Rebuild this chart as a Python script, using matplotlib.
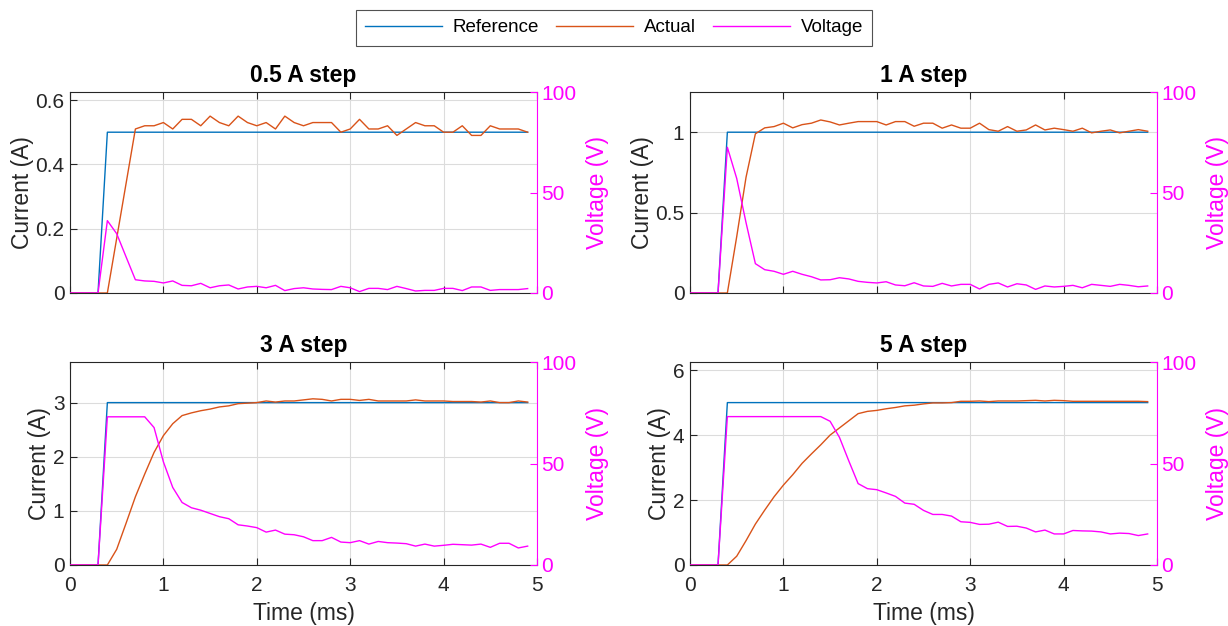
import matplotlib
matplotlib.use("Agg")
import matplotlib.pyplot as plt
from matplotlib.lines import Line2D
from matplotlib.ticker import FormatStrFormatter

plt.rcParams['font.family'] = ['Liberation Sans', 'DejaVu Sans']

# ---- data ----
time_ms = [0.0, 0.1, 0.2, 0.3, 0.4, 0.5, 0.6, 0.7, 0.8, 0.9,
           1.0, 1.1, 1.2, 1.3, 1.4, 1.5, 1.6, 1.7, 1.8, 1.9,
           2.0, 2.1, 2.2, 2.3, 2.4, 2.5, 2.6, 2.7, 2.8, 2.9,
           3.0, 3.1, 3.2, 3.3, 3.4, 3.5, 3.6, 3.7, 3.8, 3.9,
           4.0, 4.1, 4.2, 4.3, 4.4, 4.5, 4.6, 4.7, 4.8, 4.9]

titles = ["0.5 A step", "1 A step", "3 A step", "5 A step"]
steps = [0.5, 1, 3, 5]
current_ticks = [[0, 0.2, 0.4, 0.6], [0, 0.5, 1], [0, 1, 2, 3], [0, 2, 4, 6]]
time_ticks = [0, 1, 2, 3, 4, 5]
voltage_ticks = [0, 50, 100]

ref_05 = [0] * 4 + [0.5] * 46
ref_1 = [0] * 4 + [1] * 46
ref_3 = [0] * 4 + [3] * 46
ref_5 = [0] * 4 + [5] * 46

act_05 = [0] * 5 + [0.17, 0.34, 0.51, 0.52, 0.52, 0.53, 0.51, 0.54, 0.54, 0.52,
                    0.55, 0.53, 0.52, 0.55, 0.53, 0.52, 0.53, 0.51, 0.55, 0.53,
                    0.52, 0.53, 0.53, 0.53, 0.50, 0.51, 0.54, 0.51, 0.51, 0.52,
                    0.49, 0.51, 0.53, 0.52, 0.52, 0.50, 0.50, 0.52, 0.49, 0.49,
                    0.52, 0.51, 0.51, 0.51, 0.50]
act_1 = [0] * 5 + [0.35, 0.72, 0.99, 1.027, 1.035, 1.056, 1.027, 1.047, 1.056, 1.076,
                   1.064, 1.045, 1.056, 1.066, 1.066, 1.066, 1.045, 1.066, 1.066, 1.037,
                   1.056, 1.056, 1.025, 1.045, 1.025, 1.025, 1.056, 1.016, 1.006, 1.035,
                   1.006, 1.014, 1.045, 1.014, 1.025, 1.016, 1.006, 1.025, 0.996, 1.006,
                   1.014, 0.996, 1.006, 1.016, 1.006]
act_3 = [0] * 5 + [0.29, 0.77, 1.26, 1.68, 2.08, 2.39, 2.61, 2.76, 2.81, 2.85,
                   2.88, 2.92, 2.94, 2.98, 2.99, 3.0, 3.03, 3.01, 3.03, 3.03,
                   3.05, 3.07, 3.06, 3.03, 3.06, 3.06, 3.04, 3.06, 3.03, 3.03,
                   3.03, 3.03, 3.05, 3.03, 3.03, 3.03, 3.02, 3.02, 3.02, 3.01,
                   3.03, 3.0, 3.0, 3.03, 3.01]
act_5 = [0] * 5 + [0.27, 0.75, 1.26, 1.69, 2.1, 2.46, 2.78, 3.13, 3.42, 3.7,
                   4.0, 4.22, 4.44, 4.66, 4.73, 4.76, 4.81, 4.85, 4.9, 4.92,
                   4.96, 4.99, 4.99, 5.0, 5.04, 5.04, 5.05, 5.03, 5.05, 5.05,
                   5.05, 5.06, 5.07, 5.05, 5.07, 5.06, 5.04, 5.04, 5.04, 5.04,
                   5.04, 5.04, 5.04, 5.04, 5.03]

volt_05 = [0] * 4 + [36, 29.5, 18, 6.6, 6, 5.8, 5, 6, 3.8, 3.6,
                     4.8, 2.6, 3.6, 4, 2, 3, 3.3, 2.6, 3.8, 1.2,
                     2.2, 2.6, 2, 1.8, 1.7, 3.3, 2.6, 0.7, 2.3, 2.3,
                     1.7, 3.3, 2.2, 1, 1.3, 1.3, 2.3, 2.3, 1.2, 3,
                     3, 1.3, 1.7, 1.7, 1.7, 2.2]
volt_1 = [0] * 4 + [72.5, 57, 35, 14.6, 11.6, 10.8, 9.3, 10.8, 9.3, 8.1,
                    6.5, 6.6, 7.6, 7, 5.8, 5.3, 5, 5.6, 4, 3.6,
                    5.1, 3.5, 3.3, 4.8, 3.5, 4.3, 4.3, 2, 4.3, 5,
                    3, 4.6, 4, 1.8, 3.5, 3, 3.3, 3.8, 2.6, 4.3,
                    3.8, 3.3, 4.3, 3.8, 3.1, 3.5]
volt_3 = [0] * 4 + [73, 73, 73, 73, 73, 67.7, 50.8, 38.2, 30.8, 28.2,
                    27, 25.4, 23.8, 22.8, 19.8, 19.2, 18.4, 16.2, 17.2, 15.2,
                    14.9, 13.9, 12, 12, 13.6, 11.3, 11, 12, 10.3, 11.6,
                    11, 10.8, 10.5, 9.3, 10.3, 9.3, 9.7, 10.2, 10, 9.8,
                    10.3, 8.7, 10.7, 10.7, 8.4, 9.3]
volt_5 = [0] * 4 + [73.1] * 11 + [70.8, 62.9, 51.3, 40.1, 37.6, 37.1, 35.5, 33.8, 30.5, 29.9,
                                  26.9, 24.9, 24.9, 24.1, 21.3, 21, 20, 20.1, 21.1, 19,
                                  19.1, 18.2, 16.3, 17.2, 15.3, 15.3, 17, 16.8, 16.7, 16.3,
                                  15.3, 15.7, 15.5, 14.5, 15.3]

refs = [ref_05, ref_1, ref_3, ref_5]
acts = [act_05, act_1, act_3, act_5]
volts = [volt_05, volt_1, volt_3, volt_5]

# ---- style ----
C_REF = '#0072BD'
C_ACT = '#D95319'
C_VOLT = '#FF00FF'
C_TXT = '#262626'
FS_TICK = 15
FS_LAB = 16.5
LW = 1.0

W, H = 1228, 626
fig = plt.figure(figsize=(W / 100, H / 100), dpi=100)

# pixel boxes: (left, top, right, bottom)
boxes = [(70, 92, 537, 293), (690, 92, 1157, 293),
         (70, 362, 537, 565), (690, 362, 1157, 565)]

for i, (l, t, r, b) in enumerate(boxes):
    ax = fig.add_axes([l / W, 1 - b / H, (r - l) / W, (b - t) / H])
    ax.plot(time_ms, refs[i], color=C_REF, lw=LW)
    ax.plot(time_ms, acts[i], color=C_ACT, lw=LW)
    ax.set_xlim(0, 5)
    ax.set_ylim(0, 1.25 * steps[i])
    ax.set_xticks(time_ticks)
    ax.set_yticks(current_ticks[i])
    ax.yaxis.set_major_formatter(FormatStrFormatter('%g'))
    ax.grid(True, color='#dcdcdc', lw=0.8)
    ax.set_axisbelow(True)
    ax.tick_params(direction='in', length=5, width=0.8, labelsize=FS_TICK,
                   top=True, color=C_TXT, labelcolor=C_TXT, pad=4)
    ax.tick_params(axis='x', pad=8)
    ax.tick_params(axis='y', right=False)
    for s in ['left', 'bottom', 'top']:
        ax.spines[s].set_linewidth(0.8)
        ax.spines[s].set_color(C_TXT)
    ax.spines['right'].set_visible(False)
    ax.set_ylabel('Current (A)', fontsize=FS_LAB, color=C_TXT, labelpad=1)
    ax.set_title(titles[i], fontsize=FS_LAB, fontweight='bold', color='black', pad=7)
    if i >= 2:
        ax.set_xlabel('Time (ms)', fontsize=FS_LAB, color=C_TXT, labelpad=5)
    else:
        ax.tick_params(axis='x', labelbottom=False)

    ax2 = ax.twinx()
    ax2.plot(time_ms, volts[i], color=C_VOLT, lw=LW)
    ax2.set_ylim(0, 100)
    ax2.set_yticks(voltage_ticks)
    ax2.tick_params(direction='in', length=5, width=0.8, labelsize=FS_TICK,
                    colors=C_VOLT, pad=3)
    for s in ['left', 'bottom', 'top']:
        ax2.spines[s].set_visible(False)
    ax2.spines['right'].set_color(C_VOLT)
    ax2.spines['right'].set_linewidth(0.8)
    ax2.set_ylabel('Voltage (V)', fontsize=FS_LAB, color=C_VOLT, labelpad=7)

handles = [Line2D([], [], color=C_REF, lw=LW),
           Line2D([], [], color=C_ACT, lw=LW),
           Line2D([], [], color=C_VOLT, lw=LW)]
leg = fig.legend(handles, ['Reference', 'Actual', 'Voltage'], loc='upper center',
                 bbox_to_anchor=(0.5, 1 - 10 / H), ncol=3, fontsize=13.5,
                 frameon=True, fancybox=False, edgecolor=C_TXT,
                 handlelength=4.1, handletextpad=0.55, columnspacing=0.95,
                 borderpad=0.5, borderaxespad=0)
leg.get_frame().set_linewidth(0.8)
for txt in leg.get_texts():
    txt.set_color('black')

fig.savefig('out.png', dpi=100)
